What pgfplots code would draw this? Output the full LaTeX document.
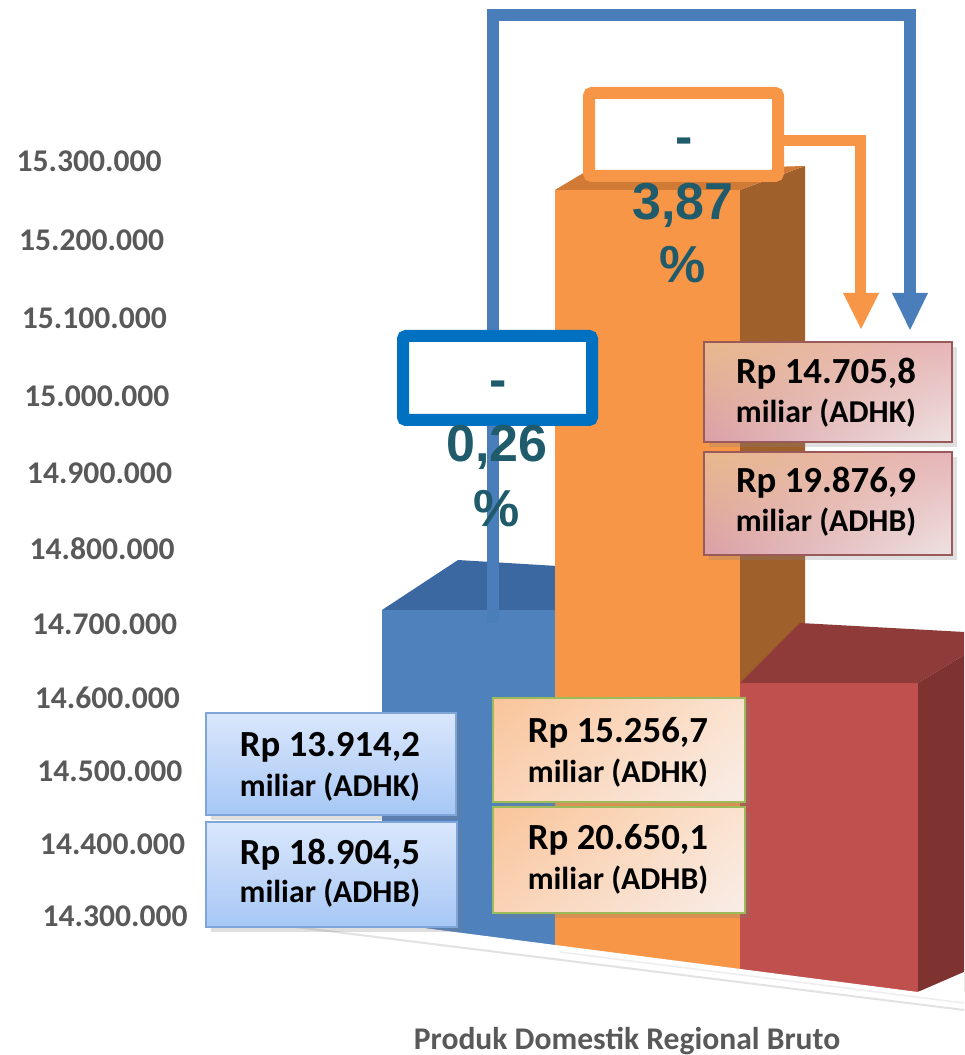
\documentclass[border=0pt]{standalone}
\usepackage{pgfplots}
\pgfplotsset{compat=1.18}
\usepackage{fontspec}
\setmainfont{Carlito}
\newfontfamily\arialf{Liberation Sans}
\usetikzlibrary{shadows,shadings}
\definecolor{tickgray}{HTML}{595959}
\definecolor{bblue}{HTML}{4F81BD}
\definecolor{bbluetop}{HTML}{3C68A2}
\definecolor{borange}{HTML}{F79646}
\definecolor{borangetop}{HTML}{D07A36}
\definecolor{borangeside}{HTML}{A0602C}
\definecolor{bred}{HTML}{C0504D}
\definecolor{bredtop}{HTML}{8E3B39}
\definecolor{bredside}{HTML}{7F3331}
\definecolor{tealtxt}{HTML}{1F5B6B}
\definecolor{boxblue}{HTML}{0070C0}
\definecolor{arrblue}{HTML}{4A7EBB}
\definecolor{arrorange}{HTML}{F79646}
\definecolor{floorgray}{HTML}{E2E2E2}
\definecolor{lbtop}{HTML}{DAE7FC}
\definecolor{lbbot}{HTML}{A7C7F5}
\definecolor{lbdraw}{HTML}{7FA6DA}
\definecolor{greenb}{HTML}{9BBB59}
\definecolor{redbdraw}{HTML}{9A5A5A}
\definecolor{oul}{HTML}{F9C49A}
\definecolor{our}{HTML}{FBE3D0}
\definecolor{oll}{HTML}{FAD3B6}
\definecolor{olr}{HTML}{F8EDE7}
\definecolor{rul}{HTML}{E9B98C}
\definecolor{rur}{HTML}{E6B4B8}
\definecolor{rll}{HTML}{DA9FA7}
\definecolor{rlr}{HTML}{EEE2E2}
\newcommand{\rpfont}{\fontsize{18.4pt}{21pt}\selectfont\bfseries}
\newcommand{\mifont}{\fontsize{15.9pt}{19pt}\selectfont\bfseries}
\newcommand{\pcfont}{\arialf\fontsize{26pt}{30pt}\selectfont\bfseries}
\begin{document}
\begin{tikzpicture}
\useasboundingbox (0,0) rectangle (482pt,527.5pt);
\begin{axis}[
  at={(100pt,31.75pt)}, anchor=south west,
  scale only axis, width=382pt, height=490.75pt,
  xmin=200, xmax=964, ymin=14200000, ymax=15500000,
  axis line style={draw=none}, tick style={draw=none},
  major tick length=0pt,
  xtick=\empty,
  ytick={14300000,14400000,14500000,14600000,14700000,14800000,14900000,15000000,15100000,15200000,15300000},
  scaled y ticks=false,
  yticklabel style={/pgf/number format/.cd, fixed, precision=0, 1000 sep={.}, assume math mode=true, /tikz/.cd,
     anchor=east, inner sep=0pt, font=\fontsize{15.8pt}{19pt}\selectfont\bfseries, text=tickgray,
     xshift={-6pt-1.3pt*\ticknum}, yshift={-0.21pt*\ticknum*(10-\ticknum)}},
  xlabel={Produk Domestik Regional Bruto},
  xlabel style={at={(axis description cs:0.559,0)}, anchor=base, yshift=-28.75pt, inner sep=0pt,
     font=\fontsize{15.8pt}{19pt}\selectfont\bfseries, text=tickgray},
  clip=true,
]
% blue bar
\addplot[ybar, bar width=175, bar shift=0pt, fill=bblue, draw=none] coordinates {(469.5,14705300)};
\addplot[fill=bbluetop, draw=none] coordinates {(382,14705300) (458,14771500) (557,14763600) (557,14705300)} -- cycle;
% orange bar
\addplot[fill=borangeside, draw=none] coordinates {(740,15261600) (805,15293400) (805,14586100) (740,14559600)} -- cycle;
\addplot[ybar, bar width=185, bar shift=0pt, fill=borange, draw=none] coordinates {(647.5,15261600)};
\addplot[fill=borangetop, draw=none] coordinates {(555,15261600) (585,15285400) (805,15293400) (740,15261600)} -- cycle;
% red bar
\addplot[ybar, bar width=178, bar shift=0pt, fill=bred, draw=none] coordinates {(829,14608600)};
\addplot[fill=bredtop, draw=none] coordinates {(740,14608600) (800,14688100) (964,14676200) (964,14645700) (918,14608600)} -- cycle;
\addplot[fill=bredside, draw=none] coordinates {(918,14608600) (964,14645700) (964,14200000) (918,14200000)} -- cycle;
\end{axis}
\begin{scope}[x=0.5pt,y=-0.5pt,yshift=527.5pt]
% floor
\fill[white] (200,899) -- (918,992) -- (964,972) -- (964,993) -- (200,993) -- cycle;
\draw[floorgray, line width=1pt] (215,917) -- (964,1010);
\draw[floorgray!60, line width=0.8pt] (560,952) -- (964,1003);
% arrows
\draw[arrblue, line width=6pt, line join=miter] (493,623) -- (493,15) -- (910,15) -- (910,296);
\fill[arrblue] (892,293) -- (928,293) -- (910,330) -- cycle;
\draw[arrorange, line width=5.5pt, line join=miter] (784,141) -- (860.5,141) -- (860.5,296);
\fill[arrorange] (843,293) -- (879,293) -- (861,329) -- cycle;
% change boxes
\draw[boxblue, line width=6pt, fill=white, rounded corners=1.5pt] (403,336) rectangle (592,420);
\draw[arrorange, line width=6pt, fill=white, rounded corners=1.5pt] (589,93) rectangle (778,176);
\node[anchor=base, inner sep=0pt, text=tealtxt, font=\pcfont] at (498,398) {-};
\node[anchor=base, inner sep=0pt, text=tealtxt, font=\pcfont] at (684,155) {-};
\node[anchor=base, inner sep=0pt, text=tealtxt, font=\pcfont] at (497,462) {0,26};
\node[anchor=base, inner sep=0pt, text=tealtxt, font=\pcfont] at (497,527) {\%};
\node[anchor=base, inner sep=0pt, text=tealtxt, font=\pcfont] at (683,220) {3,87};
\node[anchor=base, inner sep=0pt, text=tealtxt, font=\pcfont] at (683,283) {\%};
% value boxes blue
\path[draw=lbdraw, line width=0.8pt, top color=lbtop, bottom color=lbbot, drop shadow={opacity=0.25}] (206,713) rectangle (456,815);
\path[draw=lbdraw, line width=0.8pt, top color=lbtop, bottom color=lbbot, drop shadow={opacity=0.25}] (206,822) rectangle (457,927);
\node[anchor=base, inner sep=0pt, font=\rpfont] at (330,757) {Rp 13.914,2};
\node[anchor=base, inner sep=0pt, font=\mifont] at (330,797) {miliar (ADHK)};
\node[anchor=base, inner sep=0pt, font=\rpfont] at (330,865) {Rp 18.904,5};
\node[anchor=base, inner sep=0pt, font=\mifont] at (330,903) {miliar (ADHB)};
% value boxes orange
\path[draw=greenb, line width=0.8pt, upper left=oul, upper right=our, lower left=oll, lower right=olr, drop shadow={opacity=0.25}] (493,698) rectangle (745,802);
\path[draw=greenb, line width=0.8pt, upper left=oul, upper right=our, lower left=oll, lower right=olr, drop shadow={opacity=0.25}] (493,807) rectangle (745,913);
\node[anchor=base, inner sep=0pt, font=\rpfont] at (618,743) {Rp 15.256,7};
\node[anchor=base, inner sep=0pt, font=\mifont] at (618,783) {miliar (ADHK)};
\node[anchor=base, inner sep=0pt, font=\rpfont] at (618,850) {Rp 20.650,1};
\node[anchor=base, inner sep=0pt, font=\mifont] at (618,890) {miliar (ADHB)};
% value boxes red
\path[draw=redbdraw, line width=0.8pt, upper left=rul, upper right=rur, lower left=rll, lower right=rlr, drop shadow={opacity=0.25}] (704,342) rectangle (952,442);
\path[draw=redbdraw, line width=0.8pt, upper left=rul, upper right=rur, lower left=rll, lower right=rlr, drop shadow={opacity=0.25}] (704,452) rectangle (952,555);
\node[anchor=base, inner sep=0pt, font=\rpfont] at (826,384) {Rp 14.705,8};
\node[anchor=base, inner sep=0pt, font=\mifont] at (826,423) {miliar (ADHK)};
\node[anchor=base, inner sep=0pt, font=\rpfont] at (826,493) {Rp 19.876,9};
\node[anchor=base, inner sep=0pt, font=\mifont] at (826,532) {miliar (ADHB)};
\end{scope}
\end{tikzpicture}
\end{document}
